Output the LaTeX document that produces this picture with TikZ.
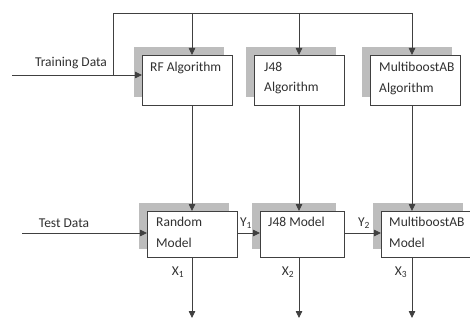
\documentclass[tikz,border=0pt]{standalone}
\usepackage{fontspec}
\setmainfont{Carlito}
\usetikzlibrary{arrows.meta,shadows,calc}
\definecolor{linec}{HTML}{404040}
\definecolor{shadec}{HTML}{BDBDBD}
\definecolor{textc}{HTML}{303030}
\begin{document}
\begin{tikzpicture}[x=1pt,y=-1pt,
  every node/.style={font=\fontsize{13.5}{20.5}\selectfont, text=textc},
  boxnode/.style={draw=linec, line width=0.8pt, fill=white, inner sep=0pt,
    minimum width=90pt, minimum height=#1, anchor=north west,
    drop shadow={shadow xshift=-8pt, shadow yshift=8pt, opacity=1, fill=shadec}},
  boxtext/.style={anchor=north west, inner sep=0pt, align=left},
  conn/.style={draw=linec, line width=0.8pt},
  arr/.style={conn, -{Triangle[length=7pt,width=6.5pt]}},
  lbl/.style={inner sep=0pt}]
\useasboundingbox (0,0) rectangle (470,320);

% boxes
\node[boxnode=50pt] (rf) at (142,55) {};
\node[boxnode=50pt] (ja) at (254,55) {};
\node[boxnode=50pt] (ma) at (370,55) {};
\node[boxnode=46pt] (rm) at (147,211) {};
\node[boxnode=46pt, minimum width=84pt] (jm) at (260,211) {};
\node[boxnode=46pt] (mm) at (381,211) {};

% box texts
\node[boxtext] (rft) at ($(rf.north west)+(8,7)$) {RF Algorithm};
\node[boxtext] (jat) at ($(ja.north west)+(10,7)$) {J48\\Algorithm};
\node[boxtext] (mat) at ($(ma.north west)+(9,7)$) {MultiboostAB\\Algorithm};
\node[boxtext] (rmt) at ($(rm.north west)+(9,6)$) {Random\\Model};
\node[boxtext] (jmt) at ($(jm.north west)+(8,6)$) {J48 Model};
\node[boxtext] (mmt) at ($(mm.north west)+(8,6)$) {MultiboostAB\\Model};

% coordinates
\coordinate (tdin) at (12,75);
\coordinate (split) at (113,75);
\coordinate (top) at (113,13);
\coordinate (c1) at (192,13);
\coordinate (c2) at (299,13);
\coordinate (c3) at (412,13);
\coordinate (tsin) at (22,233);
\coordinate (o1) at (192,318);
\coordinate (o2) at (299,318);
\coordinate (o3) at (412,318);

% training data
\draw[arr] (tdin) -- (tdin -| rf.west);
\draw[conn] (split) -- (top) -- (c3);
\draw[arr] (c1) -- (c1 |- rf.north);
\draw[arr] (c2) -- (c2 |- ja.north);
\draw[arr] (c3) -- (c3 |- ma.north);

% algorithm -> model
\draw[arr] (c1 |- rf.south) -- (c1 |- rm.north);
\draw[arr] (c2 |- ja.south) -- (c2 |- jm.north);
\draw[arr] (c3 |- ma.south) -- (c3 |- mm.north);

% test data chain
\draw[arr] (tsin) -- (tsin -| rm.west);
\draw[arr] (rm.east |- tsin) -- (jm.west |- tsin);
\draw[arr] (jm.east |- tsin) -- (mm.west |- tsin);

% outputs
\draw[arr] (o1 |- rm.south) -- (o1);
\draw[arr] (o2 |- jm.south) -- (o2);
\draw[arr] (o3 |- mm.south) -- (o3);

% labels
\node[lbl] (tdl) at (71,63) {Training Data};
\node[lbl] (tsl) at (64,223) {Test Data};
\node[lbl] (y1) at (246,223) {Y\textsubscript{1}};
\node[lbl] (y2) at (364,223) {Y\textsubscript{2}};
\node[lbl] (x1) at (178,272) {X\textsubscript{1}};
\node[lbl] (x2) at (288,272) {X\textsubscript{2}};
\node[lbl] (x3) at (401,272) {X\textsubscript{3}};
\end{tikzpicture}
\end{document}
